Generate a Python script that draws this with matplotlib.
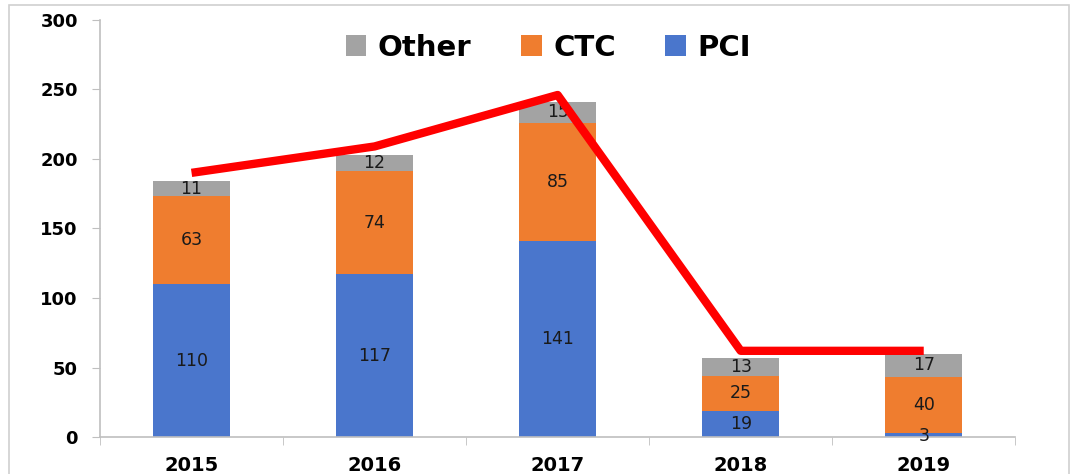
import matplotlib
matplotlib.use("Agg")
import matplotlib.pyplot as plt
from matplotlib.patches import Rectangle
import numpy as np

years = ["2015", "2016", "2017", "2018", "2019"]
pci = [110, 117, 141, 19, 3]
ctc = [63, 74, 85, 25, 40]
other = [11, 12, 15, 13, 17]
trend = [190, 209, 246, 62, 62]

fig = plt.figure(figsize=(10.78, 4.74), dpi=100)
fig.patches.append(Rectangle((0.008, -0.01), 0.984, 1.0, transform=fig.transFigure,
                             fill=False, edgecolor="#d0d0d0", linewidth=1.2))
ax = fig.add_axes([0.0928, 0.078, 0.849, 0.880])

x = np.arange(len(years))
w = 0.42
c_pci, c_ctc, c_oth = "#4a76cc", "#ef7d2f", "#a3a3a3"
b1 = ax.bar(x, pci, w, color=c_pci, label="PCI")
b2 = ax.bar(x, ctc, w, bottom=pci, color=c_ctc, label="CTC")
bot3 = np.array(pci) + np.array(ctc)
b3 = ax.bar(x, other, w, bottom=bot3, color=c_oth, label="Other")

for i in range(len(years)):
    ax.text(x[i], pci[i] / 2 if pci[i] > 5 else 0.5, str(pci[i]), ha="center", va="center",
            fontsize=12.5, color="#1a1a1a")
    ax.text(x[i], pci[i] + ctc[i] / 2, str(ctc[i]), ha="center", va="center",
            fontsize=12.5, color="#1a1a1a")
    ax.text(x[i], bot3[i] + other[i] / 2, str(other[i]), ha="center", va="center",
            fontsize=12.5, color="#1a1a1a")

ax.plot(x, trend, color="#ff0000", linewidth=6, solid_capstyle="butt", zorder=5)

ax.set_xlim(-0.5, 4.5)
ax.set_ylim(0, 300)
ax.set_yticks(range(0, 301, 50))
ax.set_xticks(x)
ax.set_xticklabels(years, fontsize=14, fontweight="bold")
ax.tick_params(axis="x", length=0, pad=14)
ax.set_xticks(np.arange(-0.5, 5.0, 1.0), minor=True)
ax.tick_params(axis="x", which="minor", length=6, color="#bfbfbf", direction="out")
ax.tick_params(axis="y", labelsize=13, length=6, color="#bfbfbf", pad=10)
for lbl in ax.get_yticklabels():
    lbl.set_fontweight("bold")
for s in ["top", "right"]:
    ax.spines[s].set_visible(False)
for s in ["left", "bottom"]:
    ax.spines[s].set_color("#bfbfbf")
    ax.spines[s].set_linewidth(1.2)

handles = [b3, b2, b1]
leg = ax.legend(handles, ["Other", "CTC", "PCI"], loc="upper center", bbox_to_anchor=(0.49, 1.03),
                ncol=3, frameon=False, prop={"weight": "bold", "size": 21},
                handlelength=0.7, handleheight=0.7, columnspacing=1.7, handletextpad=0.4)

fig.savefig("out.png", dpi=100)
